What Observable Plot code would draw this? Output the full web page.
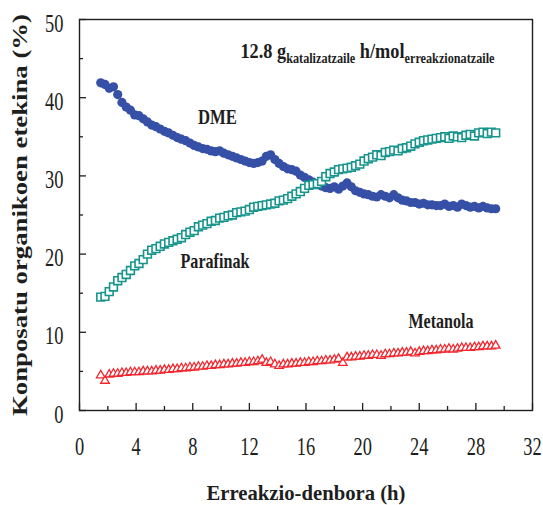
<!DOCTYPE html>
<html><head><meta charset="utf-8">
<script src="https://cdn.jsdelivr.net/npm/d3@7"></script>
<script src="https://cdn.jsdelivr.net/npm/@observablehq/plot@0.6"></script>
<style>body{margin:0;background:#fff}</style>
</head><body><div id="chart"></div>
<script>
// ---- data ----
const hours = [
 1.5,1.8,2.1,2.4,2.7,3.0,3.3,3.6,3.9,4.2,
 4.5,4.8,5.1,5.4,5.7,6.0,6.3,6.6,6.9,7.2,
 7.5,7.8,8.1,8.4,8.7,9.0,9.3,9.6,9.9,10.2,
 10.5,10.8,11.1,11.4,11.7,12.0,12.3,12.6,12.9,13.2,
 13.5,13.8,14.1,14.4,14.7,15.0,15.3,15.6,15.9,16.2,
 16.5,16.8,17.1,17.4,17.7,18.0,18.3,18.6,18.9,19.2,
 19.5,19.8,20.1,20.4,20.7,21.0,21.3,21.6,21.9,22.2,
 22.5,22.8,23.1,23.4,23.7,24.0,24.3,24.6,24.9,25.2,
 25.5,25.8,26.1,26.4,26.7,27.0,27.3,27.6,27.9,28.2,
 28.5,28.8,29.1,29.4];
const dme = [
 41.9,41.7,41.2,41.4,40.4,39.4,38.8,38.4,37.8,37.7,
 37.3,36.9,36.5,36.3,36.0,35.7,35.5,35.2,34.9,34.7,
 34.5,34.2,33.9,33.7,33.5,33.4,33.2,33.1,33.2,32.9,
 32.7,32.5,32.3,32.1,31.9,31.7,31.6,31.7,31.9,32.5,
 32.7,32.1,31.6,31.2,30.9,30.8,30.6,30.1,29.8,29.5,
 29.2,28.9,28.7,28.5,28.4,28.6,28.3,28.7,29.1,28.6,
 28.1,27.9,27.7,27.6,27.4,27.3,27.6,27.4,27.2,27.6,
 27.2,26.9,26.8,26.6,26.6,26.4,26.5,26.3,26.3,26.2,
 26.2,26.4,26.1,26.2,26.0,26.4,26.2,26.0,26.1,25.9,
 26.1,25.9,25.8,25.8];
const parafinak = [
 14.5,14.6,15.2,15.8,16.6,17.0,17.4,17.9,18.5,18.8,
 19.3,20.0,20.5,20.7,21.0,21.3,21.5,21.7,21.9,22.1,
 22.5,22.8,23.0,23.5,23.7,23.9,24.2,24.3,24.6,24.7,
 24.9,25.0,25.3,25.4,25.5,25.7,26.0,26.1,26.2,26.3,
 26.4,26.5,26.8,26.9,27.1,27.4,27.7,28.0,28.4,28.8,
 28.9,29.0,29.3,29.9,30.3,30.5,30.8,30.9,31.0,31.1,
 31.3,31.5,31.9,32.2,32.4,32.7,32.6,33.0,33.1,33.3,
 33.2,33.5,33.6,33.8,34.1,34.3,34.5,34.6,34.7,34.8,
 34.9,35.0,34.8,35.1,35.0,34.9,35.2,35.3,35.1,35.5,
 35.6,35.4,35.6,35.5];
const metanola = [
 4.5,3.8,4.6,4.7,4.7,4.8,4.8,4.9,4.9,4.9,
 5.0,5.0,5.0,5.1,5.1,5.2,5.2,5.3,5.3,5.4,
 5.4,5.5,5.5,5.6,5.6,5.7,5.7,5.8,5.8,5.9,
 5.9,6.0,6.0,6.1,6.1,6.2,6.2,6.3,6.5,6.1,
 6.2,5.9,5.7,5.9,5.9,6.0,6.0,6.1,6.1,6.2,
 6.2,6.3,6.3,6.4,6.4,6.5,6.6,6.1,6.8,6.8,
 6.9,6.9,7.0,7.0,7.1,7.1,7.0,7.2,7.2,7.3,
 7.3,7.4,7.4,7.5,7.3,7.5,7.6,7.6,7.7,7.7,
 7.8,7.8,7.9,7.8,7.9,8.0,8.0,8.0,8.1,8.1,
 8.2,8.2,8.2,8.3];
const xTicks = [0,4,8,12,16,20,24,28,32];
const xMinorTicks = [2,6,10,14,18,22,26,30];
const yTicks = [0,10,20,30,40,50];
const yMinorTicks = [5,15,25,35,45];
const seriesNames = ["DME","Parafinak","Metanola"];
const xTitle = "Erreakzio-denbora (h)";
const yTitle = "Konposatu organikoen etekina (%)";
const annotationParts = ["12.8 g","katalizatzaile"," h/mol","erreakzionatzaile"];

// ---- layout (positions of in-plot labels, in data units) ----
const labelPlacement = {DME:[9.75,37.5], Parafinak:[9.57,19.05], Metanola:[25.53,11.45]};
const annotationAt = [11.37, 45.9];
const labelWidths = {DME:39, Parafinak:69, Metanola:65};

const toRows = vals => hours.map((h,i)=>({h, v: vals[i]}));
const labelRows = seriesNames.map(n => ({name:n, h:labelPlacement[n][0], v:labelPlacement[n][1]}));
const annotationText = annotationParts.join("");

const FONT = "'Liberation Serif','Times New Roman',serif";
const ink = "#1e1e1e";
const axisStyle = {stroke: ink, strokeWidth: 1.3, fill: "none", label: null};

const chart = Plot.plot({
  width: 543, height: 505,
  marginLeft: 79, marginRight: 11, marginTop: 19, marginBottom: 95,
  style: {fontFamily: FONT, background: "#fff", color: ink, overflow: "visible"},
  x: {domain: [0,32], label: null},
  y: {domain: [0,50], label: null},
  marks: [
    Plot.dot(toRows(dme), {x:"h", y:"v", r:4.6, fill:"#3550a6", stroke:"none"}),
    Plot.dot(toRows(parafinak), {x:"h", y:"v", symbol:"square", r:4.4, fill:"#fff", stroke:"#17958d", strokeWidth:1.6}),
    Plot.dot(toRows(metanola), {x:"h", y:"v", symbol:"triangle", r:3.2, fill:"#fff", stroke:"#f2262e", strokeWidth:1.3}),
    Plot.frame({stroke: ink, strokeWidth: 1.4}),
    Plot.axisX(xTicks, {anchor:"bottom", tickSize:-7, ...axisStyle}),
    Plot.axisX(xMinorTicks, {anchor:"bottom", tickSize:-4, ...axisStyle}),
    Plot.axisX(xTicks, {anchor:"bottom", tickSize:0, tickPadding:27, fontSize:25, fill: ink, label:null}),
    Plot.axisY(yTicks, {anchor:"left", tickSize:-7, ...axisStyle}),
    Plot.axisY(yMinorTicks, {anchor:"left", tickSize:-4, ...axisStyle}),
    Plot.axisY(yTicks, {anchor:"left", tickSize:0, tickPadding:16, fontSize:25, dy:4, fill: ink, label:null}),
    Plot.text([xTitle], {text: d=>d, frameAnchor:"bottom", textAnchor:"middle", lineAnchor:"middle", dy:83, fontSize:21, fontWeight:"bold", fill: ink}),
    Plot.text([yTitle], {text: d=>d, frameAnchor:"left", textAnchor:"middle", lineAnchor:"middle", dx:-59, rotate:-90, fontSize:21, fontWeight:"bold", fill: ink}),
    Plot.text(labelRows, {x:"h", y:"v", text:"name", textAnchor:"middle", lineAnchor:"middle", fontSize:21, fontWeight:"bold", fill: ink}),
    Plot.text([annotationText], {text: d=>d, x:()=>annotationAt[0], y:()=>annotationAt[1], textAnchor:"start", lineAnchor:"middle", fontSize:21, fontWeight:"bold", fill: ink})
  ]
});
document.getElementById("chart").appendChild(chart);

// ---- typographic post-processing (condensed look) ----
const squeeze = (el, len) => { el.setAttribute("textLength", len); el.setAttribute("lengthAdjust", "spacingAndGlyphs"); };
d3.select(chart).selectAll("text").each(function(){
  const s = this.textContent;
  if (/^\d+$/.test(s)) squeeze(this, s.length * 9.2);
  else if (s === xTitle) squeeze(this, 199);
  else if (s === yTitle) squeeze(this, 402);
  else if (labelWidths[s]) squeeze(this, labelWidths[s]);
  else if (s === annotationText) {
    const t = d3.select(this);
    t.text(null);
    annotationParts.forEach((p,i) => {
      const sub = i % 2 === 1;
      const ts = t.append("tspan").attr("font-size", sub ? 14 : 21).text(p);
      if (i > 0) ts.attr("dy", sub ? 5 : -5);
    });
    squeeze(this, 254);
  }
});
</script>
</body></html>
